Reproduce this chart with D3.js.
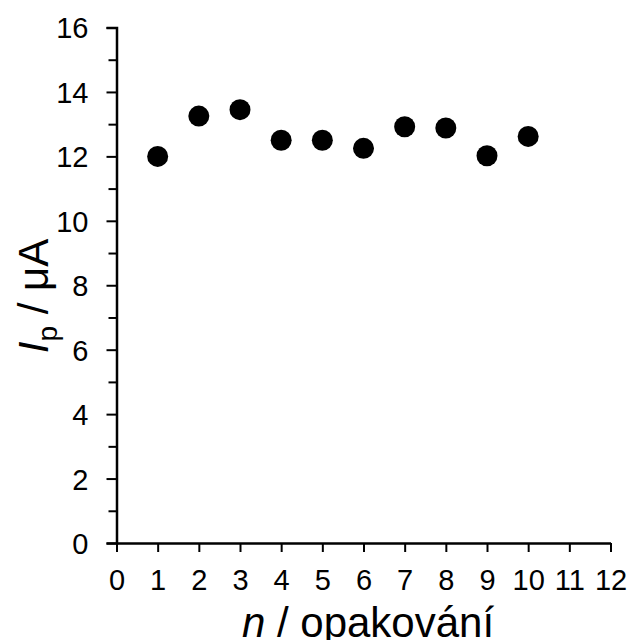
<!DOCTYPE html>
<html>
<head>
<meta charset="utf-8">
<script src="https://cdn.jsdelivr.net/npm/d3@7"></script>
<style>
  body { margin: 0; background: #fff; }
  svg { display: block; font-family: "Liberation Sans", Arial, sans-serif; }
</style>
</head>
<body>
<script>
// repetition number and peak current (uA)
var runs = [1, 2, 3, 4, 5, 6, 7, 8, 9, 10];
var currents = [12.0, 13.25, 13.45, 12.5, 12.5, 12.25, 12.92, 12.88, 12.02, 12.62];
var xTicks = [0, 1, 2, 3, 4, 5, 6, 7, 8, 9, 10, 11, 12];
var yTicks = [0, 2, 4, 6, 8, 10, 12, 14, 16];
var yMinor = [1, 3, 5, 7, 9, 11, 13, 15];

var width = 632, height = 640;

var svg = d3.select('body')
  .append('svg')
  .attr('width', width)
  .attr('height', height);

var x = d3.scaleLinear().domain([0, 12]).range([116.5, 610.5]);
var y = d3.scaleLinear().domain([0, 16]).range([543, 27.5]);

// minor ticks on y
svg.append('g')
  .attr('transform', 'translate(' + x(0) + ',0)')
  .call(d3.axisLeft(y).tickValues(yMinor).tickSize(8).tickFormat(''))
  .call(g => g.select('.domain').remove())
  .selectAll('line').attr('stroke', '#000').attr('stroke-width', 2);

var yAxis = svg.append('g')
  .attr('transform', 'translate(' + x(0) + ',0)')
  .call(d3.axisLeft(y).tickValues(yTicks).tickSize(10).tickSizeOuter(10).tickPadding(18));

var xAxis = svg.append('g')
  .attr('transform', 'translate(0,' + y(0) + ')')
  .call(d3.axisBottom(x).tickValues(xTicks).tickSize(9).tickSizeOuter(0).tickPadding(17));

[xAxis, yAxis].forEach(function(g) {
  g.select('.domain').attr('stroke', '#000').attr('stroke-width', 2.5);
  g.selectAll('.tick line').attr('stroke', '#000').attr('stroke-width', 2);
  g.selectAll('.tick text')
    .attr('fill', '#000')
    .style('font-size', '29px');
});
yAxis.selectAll('.tick text').attr('dy', '0.36em');
xAxis.selectAll('.tick text').attr('dy', '0.72em');

svg.append('g')
  .selectAll('circle')
  .data(runs)
  .enter()
  .append('circle')
  .attr('cx', d => x(d))
  .attr('cy', (d, i) => y(currents[i]))
  .attr('r', 10.5)
  .attr('fill', '#000');

// axis titles
var xt = svg.append('text')
  .attr('x', 368)
  .attr('y', 637)
  .attr('text-anchor', 'middle')
  .style('font-size', '42px');
xt.append('tspan').style('font-style', 'italic').text('n');
xt.append('tspan').text(' / opakování');

var yt = svg.append('text')
  .attr('transform', 'translate(48,296) rotate(-90)')
  .attr('text-anchor', 'middle')
  .style('font-size', '42px');
yt.append('tspan').style('font-style', 'italic').text('I');
yt.append('tspan').attr('dy', 9).style('font-size', '28px').text('p');
yt.append('tspan').attr('dy', -9).text(' / μA');
</script>
</body>
</html>
